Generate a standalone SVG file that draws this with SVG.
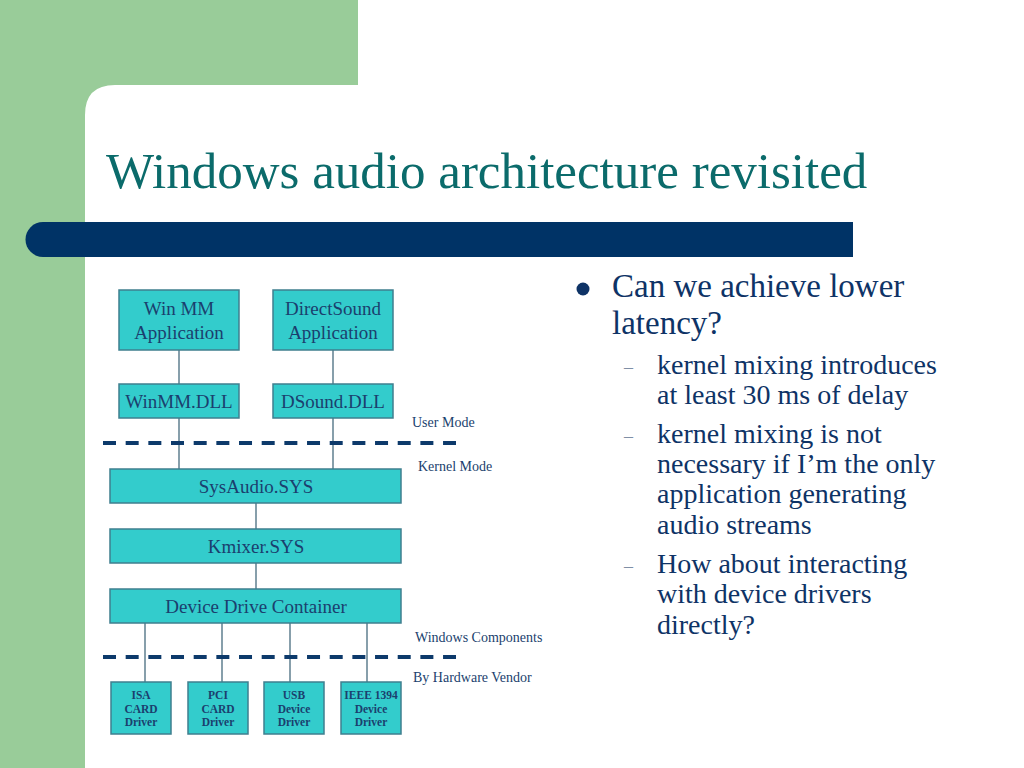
<svg xmlns="http://www.w3.org/2000/svg" width="1024" height="768" viewBox="0 0 1024 768">
<defs>
<style>
.box{fill:#33CCCC;stroke:#3F7F8F;stroke-width:1.5}
.bt{font-family:"Liberation Serif","Times New Roman",serif;font-size:19px;fill:#1B3F6E;text-anchor:middle}
.dt{font-family:"Liberation Serif","Times New Roman",serif;font-size:11.5px;font-weight:bold;fill:#1B3F6E;text-anchor:middle}
.lbl{font-family:"Liberation Serif","Times New Roman",serif;font-size:14px;fill:#1B3F6E}
.con{stroke:#5F7F8F;stroke-width:1.5;fill:none}
.sep{stroke:#0D3A6B;stroke-width:4;stroke-dasharray:13 9.67;fill:none}
.b1{font-family:"Liberation Serif","Times New Roman",serif;font-size:33px;fill:#0E3366}
.b2{font-family:"Liberation Serif","Times New Roman",serif;font-size:28px;fill:#0E3366}
.dash{font-family:"Liberation Serif","Times New Roman",serif;font-size:18px;fill:#7F8FA6}
</style>
</defs>
<rect width="1024" height="768" fill="#FFFFFF"/>
<path d="M0 0H358V85H115Q85 85 85 115V768H0Z" fill="#99CC99"/>
<text x="106" y="188" font-family="Liberation Serif, Times New Roman, serif" font-size="51" fill="#0B6B6B">Windows audio architecture revisited</text>
<path d="M43 222H853V257H43A17.5 17.5 0 0 1 43 222Z" fill="#003366"/>

<g id="connectors">
<line class="con" x1="179" y1="350" x2="179" y2="384"/>
<line class="con" x1="333" y1="350" x2="333" y2="384"/>
<line class="con" x1="179" y1="418" x2="179" y2="469"/>
<line class="con" x1="333" y1="418" x2="333" y2="469"/>
<line class="con" x1="256" y1="503" x2="256" y2="529"/>
<line class="con" x1="256" y1="563" x2="256" y2="589"/>
<line class="con" x1="145" y1="623" x2="145" y2="682"/>
<line class="con" x1="222" y1="623" x2="222" y2="682"/>
<line class="con" x1="290" y1="623" x2="290" y2="682"/>
<line class="con" x1="367" y1="623" x2="367" y2="682"/>
<line class="sep" x1="103" y1="443" x2="456" y2="443"/>
<line class="sep" x1="103" y1="657" x2="456" y2="657"/>
</g>

<g id="winmm-app"><rect class="box" x="119" y="290" width="120" height="60"/><text class="bt" x="179" y="315">Win MM</text><text class="bt" x="179" y="339">Application</text></g>
<g id="dsound-app"><rect class="box" x="273" y="290" width="120" height="60"/><text class="bt" x="333" y="315">DirectSound</text><text class="bt" x="333" y="339">Application</text></g>
<g id="winmm-dll"><rect class="box" x="119" y="384" width="120" height="34"/><text class="bt" x="179" y="408">WinMM.DLL</text></g>
<g id="dsound-dll"><rect class="box" x="273" y="384" width="120" height="34"/><text class="bt" x="333" y="408">DSound.DLL</text></g>
<g id="sysaudio"><rect class="box" x="110" y="469" width="291" height="34"/><text class="bt" x="256" y="493">SysAudio.SYS</text></g>
<g id="kmixer"><rect class="box" x="110" y="529" width="291" height="34"/><text class="bt" x="256" y="553">Kmixer.SYS</text></g>
<g id="ddc"><rect class="box" x="110" y="589" width="291" height="34"/><text class="bt" x="256" y="613">Device Drive Container</text></g>
<g id="isa"><rect class="box" x="111" y="682" width="60" height="52"/><text class="dt" x="141" y="699">ISA</text><text class="dt" x="141" y="712.5">CARD</text><text class="dt" x="141" y="726">Driver</text></g>
<g id="pci"><rect class="box" x="188" y="682" width="60" height="52"/><text class="dt" x="218" y="699">PCI</text><text class="dt" x="218" y="712.5">CARD</text><text class="dt" x="218" y="726">Driver</text></g>
<g id="usb"><rect class="box" x="264" y="682" width="60" height="52"/><text class="dt" x="294" y="699">USB</text><text class="dt" x="294" y="712.5">Device</text><text class="dt" x="294" y="726">Driver</text></g>
<g id="ieee"><rect class="box" x="341" y="682" width="60" height="52"/><text class="dt" x="371" y="699">IEEE 1394</text><text class="dt" x="371" y="712.5">Device</text><text class="dt" x="371" y="726">Driver</text></g>

<g id="labels">
<text class="lbl" x="412" y="427">User Mode</text>
<text class="lbl" x="418" y="471">Kernel Mode</text>
<text class="lbl" x="415" y="642">Windows Components</text>
<text class="lbl" x="413" y="682">By Hardware Vendor</text>
</g>

<g id="bullets">
<circle cx="583" cy="289" r="6.5" fill="#0E3366"/>
<text class="b1" x="612" y="297">Can we achieve lower</text>
<text class="b1" x="612" y="334">latency?</text>
<text class="dash" x="624" y="373">–</text>
<text class="b2" x="657" y="374">kernel mixing introduces</text>
<text class="b2" x="657" y="404">at least 30 ms of delay</text>
<text class="dash" x="624" y="442">–</text>
<text class="b2" x="657" y="443">kernel mixing is not</text>
<text class="b2" x="657" y="473">necessary if I’m the only</text>
<text class="b2" x="657" y="503">application generating</text>
<text class="b2" x="657" y="534">audio streams</text>
<text class="dash" x="624" y="572">–</text>
<text class="b2" x="657" y="573">How about interacting</text>
<text class="b2" x="657" y="603">with device drivers</text>
<text class="b2" x="657" y="634">directly?</text>
</g>
</svg>
